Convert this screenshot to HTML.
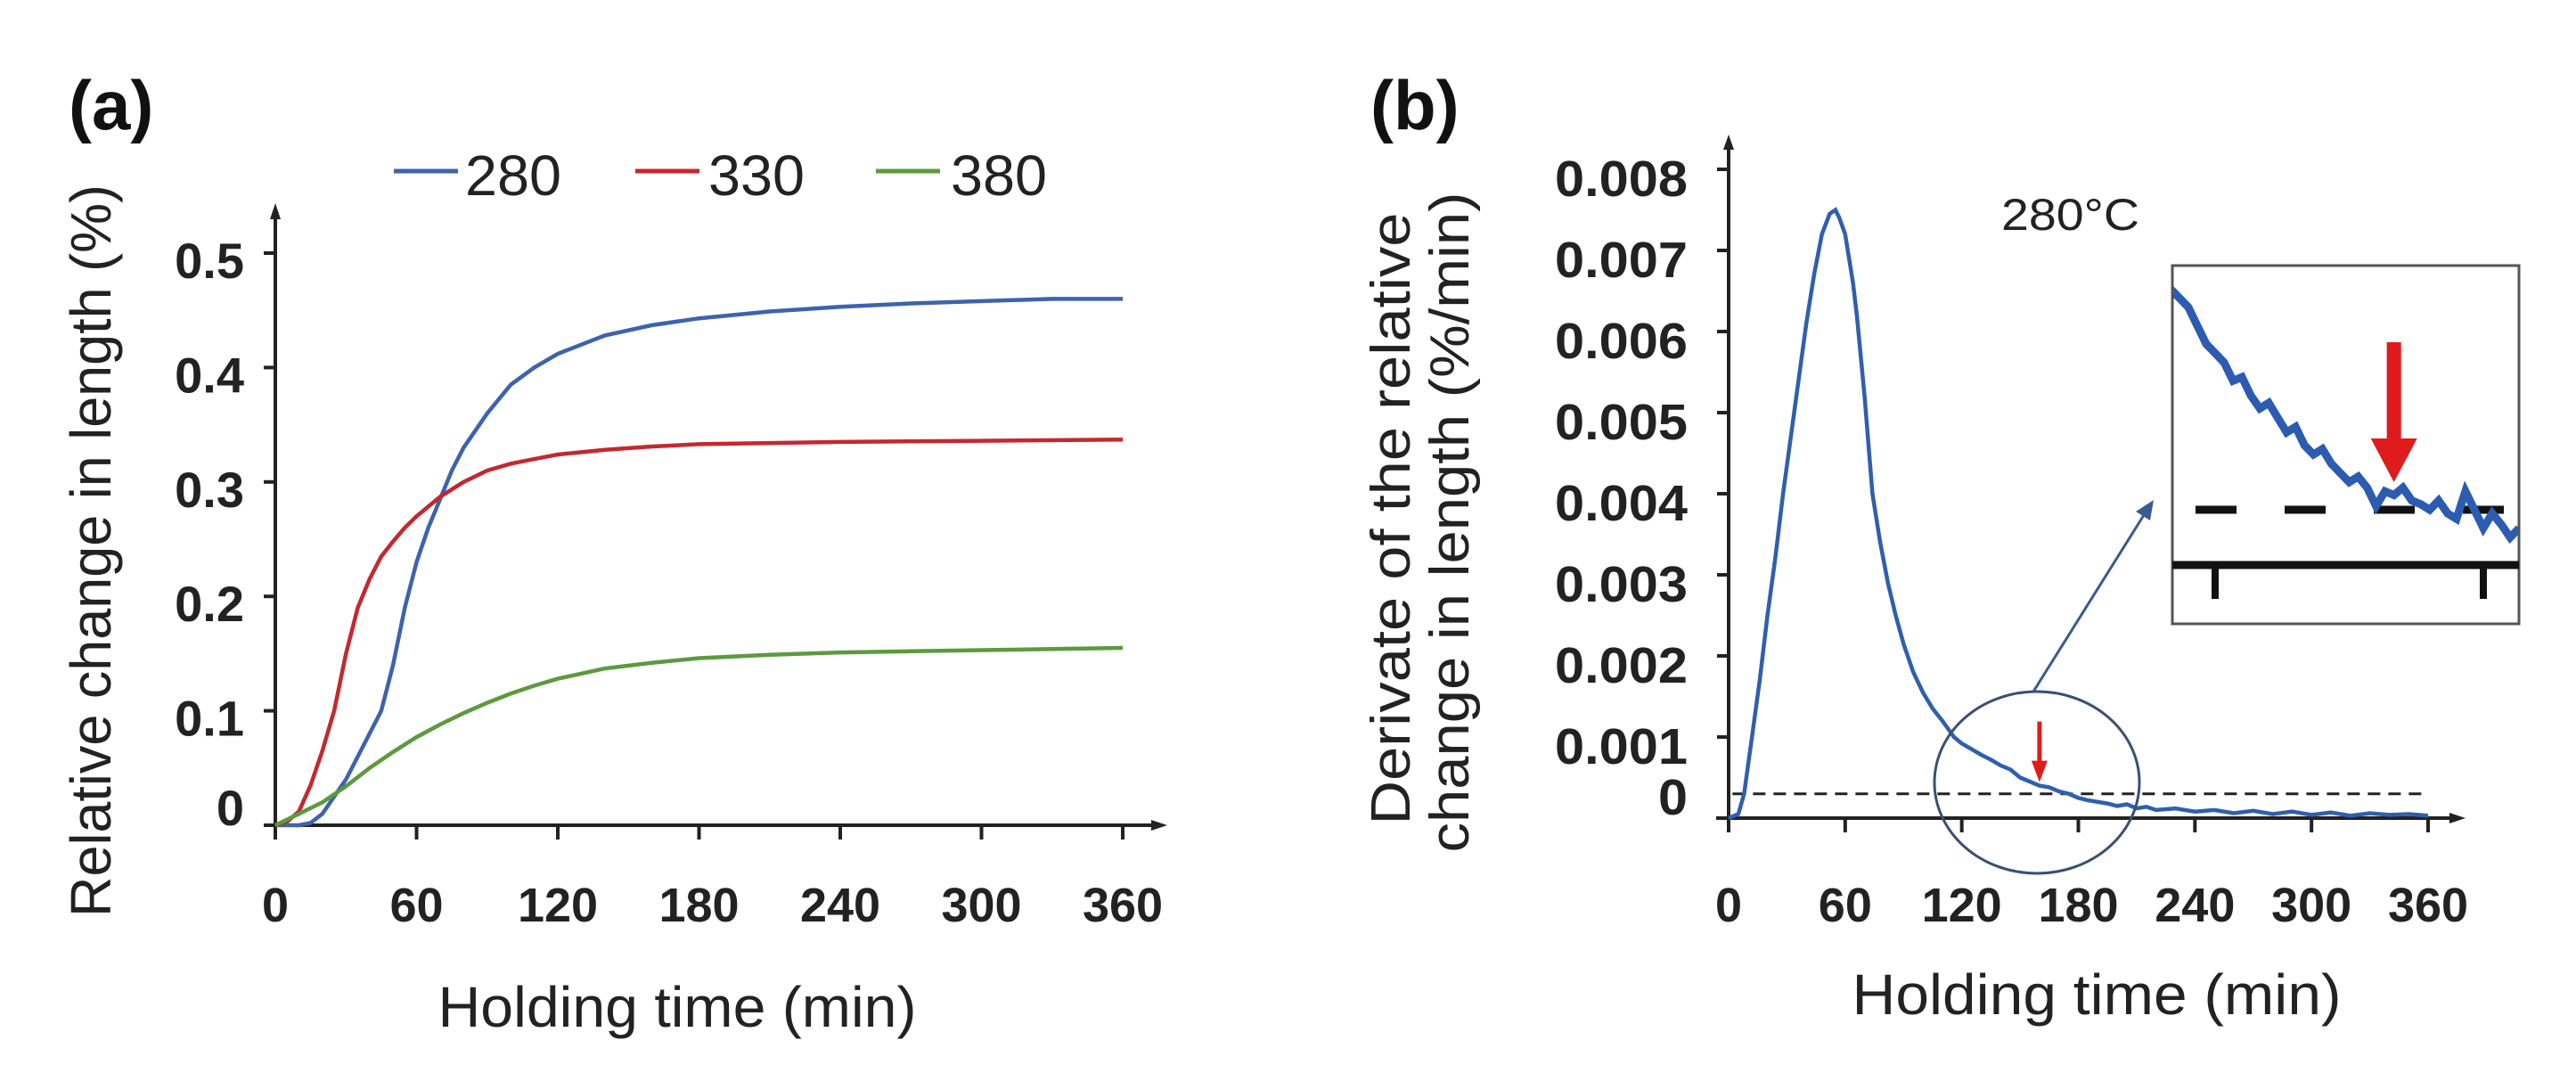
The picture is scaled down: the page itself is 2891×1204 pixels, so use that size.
<!DOCTYPE html>
<html><head><meta charset="utf-8"><style>
html,body{margin:0;padding:0;background:#fff;overflow:hidden;}
svg{display:block;font-family:"Liberation Sans",sans-serif;}
</style></head><body>
<svg id="fig" width="2891" height="1204" viewBox="0 0 2891 1204" xmlns="http://www.w3.org/2000/svg">
<g id="pa"></g>
<g id="pb"></g>
</svg>
<script>
const xTicks=[0,60,120,180,240,300,360];
const aYTicks=[0,0.1,0.2,0.3,0.4,0.5];
const aYLabels=["0","0.1","0.2","0.3","0.4","0.5"];
const t280=[0,10,15,20,25,30,35,40,45,50,55,60,65,70,75,80,90,100,110,120,140,160,180,210,240,270,300,330,360];
const v280=[0,0,0.002,0.01,0.025,0.04,0.06,0.08,0.1,0.14,0.19,0.23,0.26,0.285,0.31,0.33,0.36,0.385,0.4,0.412,0.428,0.437,0.443,0.449,0.453,0.456,0.458,0.46,0.46];
const t330=[0,5,10,15,20,25,30,35,40,45,50,55,60,70,80,90,100,110,120,140,160,180,210,240,300,360];
const v330=[0,0.003,0.012,0.035,0.065,0.1,0.15,0.19,0.215,0.235,0.248,0.26,0.27,0.287,0.3,0.31,0.316,0.32,0.324,0.328,0.331,0.333,0.334,0.335,0.336,0.337];
const t380=[0,10,20,30,40,50,60,70,80,90,100,110,120,140,160,180,210,240,270,300,330,360];
const v380=[0,0.01,0.02,0.034,0.05,0.064,0.077,0.088,0.098,0.107,0.115,0.122,0.128,0.137,0.142,0.146,0.149,0.151,0.152,0.153,0.154,0.155];
const bYTicks=[0,0.001,0.002,0.003,0.004,0.005,0.006,0.007,0.008];
const bYLabels=["0","0.001","0.002","0.003","0.004","0.005","0.006","0.007","0.008"];
const tB=[0,5,8,12,16,20,24,28,32,36,40,44,48,52,55,57,60,64,66,70,74,78,82,86,90,95,100,105,110,116,120,125,130,135,140,145,150,155,160,165,170,175,180,185,190,195,200,205,210,215,220,230,240,250,260,270,280,290,300,310,320,330,340,350,360];
const vB=[0,0.00005,0.0003,0.001,0.0017,0.0025,0.0032,0.004,0.0047,0.0054,0.0061,0.0067,0.0072,0.00745,0.0075,0.0074,0.0072,0.0066,0.0062,0.0052,0.004,0.0034,0.0029,0.0025,0.00215,0.0018,0.00155,0.00135,0.0012,0.001,0.00092,0.00085,0.00078,0.00072,0.00065,0.0006,0.0005,0.00045,0.0004,0.00038,0.00033,0.0003,0.00025,0.00022,0.0002,0.00018,0.00015,0.00017,0.00012,0.00014,0.0001,0.00012,0.00008,0.0001,0.00006,0.00009,0.00005,0.00008,0.00004,0.00007,0.00003,0.00006,0.00004,0.00005,0.00003];
const tI=[110,112,114,116,118,120,122,124,126,128,130,132,134,136,138,140,142,144,146,148,150,152,154,156,158,160,162,164,166,168,170,172,174,176,178,180,182,184,186,188];
const vI=[0.0015,0.00145,0.0014,0.0013,0.0012,0.00115,0.0011,0.001,0.00102,0.00092,0.00085,0.00088,0.0008,0.00072,0.00075,0.00065,0.0006,0.00063,0.00055,0.0005,0.00045,0.00048,0.00042,0.00032,0.0004,0.00038,0.00042,0.00035,0.00033,0.0003,0.00035,0.00028,0.00025,0.0004,0.0003,0.0002,0.00028,0.00022,0.00015,0.0002];
const threshold=0.0003;
const arrowT=160;

const NS="http://www.w3.org/2000/svg";
function mk(p,tag,at,txt){const e=document.createElementNS(NS,tag);for(const k in at)e.setAttribute(k,at[k]);if(txt!==undefined)e.textContent=txt;p.appendChild(e);return e;}
function pathD(ts,vs,X,Y){return ts.map((t,i)=>(i?"L":"M")+X(t).toFixed(1)+","+Y(vs[i]).toFixed(1)).join("");}
let e;

// Panel A
const pa=document.getElementById('pa');
const aX=t=>309+t*(1260-309)/360, aY=v=>926-v*(926-284)/0.5;
e=mk(pa,'text',{x:77,y:145,'font-size':78,'font-weight':'bold',fill:'#111'},'(a)');

e=mk(pa,'line',{x1:309,y1:926,x2:309,y2:240,stroke:'#222','stroke-width':4});

mk(pa,'path',{d:'M309,228 L303,246 L315,246 Z',fill:'#222'});
e=mk(pa,'line',{x1:296,y1:926,x2:1298,y2:926,stroke:'#222','stroke-width':4});

mk(pa,'path',{d:'M1310,926 L1292,920 L1292,932 Z',fill:'#222'});
aYTicks.forEach((v,i)=>{mk(pa,'line',{x1:296,y1:aY(v),x2:309,y2:aY(v),stroke:'#222','stroke-width':4});
 e=mk(pa,'text',{x:274,y:aY(v)+(i==0?0:28),'font-size':56,'font-weight':'bold','text-anchor':'end',fill:'#222'},aYLabels[i]);
 });
xTicks.forEach(t=>{mk(pa,'line',{x1:aX(t),y1:926,x2:aX(t),y2:942,stroke:'#222','stroke-width':4});
 e=mk(pa,'text',{x:aX(t),y:1034,'font-size':54,'font-weight':'bold','text-anchor':'middle',fill:'#222'},String(t));
 });
e=mk(pa,'text',{x:760,y:1152,'font-size':64,'text-anchor':'middle',fill:'#222',textLength:537,lengthAdjust:'spacingAndGlyphs'},'Holding time (min)');

e=mk(pa,'text',{x:0,y:0,'font-size':64,'text-anchor':'middle',fill:'#222',transform:'translate(124,618) rotate(-90)',textLength:822,lengthAdjust:'spacingAndGlyphs'},'Relative change in length (%)');

const series=[[t280,v280,'#3d63ad','280',442,522],[t330,v330,'#c4282e','330',713,795],[t380,v380,'#5c9a3e','380',983,1067]];
series.forEach(s=>{e=mk(pa,'path',{d:pathD(s[0],s[1],aX,aY),fill:'none',stroke:s[2],'stroke-width':4.5});
 
 e=mk(pa,'line',{x1:s[4],y1:192,x2:s[4]+72,y2:192,stroke:s[2],'stroke-width':5});
 
 e=mk(pa,'text',{x:s[5],y:219,'font-size':64,fill:'#222',textLength:108,lengthAdjust:'spacingAndGlyphs'},s[3]);
 });

// Panel B
const pb=document.getElementById('pb');
const bX=t=>1940+t*(2725-1940)/360, bY=v=>918-v*(918-190)/0.008;
e=mk(pb,'text',{x:1538,y:145,'font-size':78,'font-weight':'bold',fill:'#111'},'(b)');

e=mk(pb,'line',{x1:1940,y1:926,x2:1940,y2:162,stroke:'#222','stroke-width':4});

mk(pb,'path',{d:'M1940,151 L1934,168 L1946,168 Z',fill:'#222'});
e=mk(pb,'line',{x1:1926,y1:918,x2:2756,y2:918,stroke:'#222','stroke-width':4});

mk(pb,'path',{d:'M2767,918 L2749,912 L2749,924 Z',fill:'#222'});
bYTicks.forEach((v,i)=>{if(i>0)mk(pb,'line',{x1:1927,y1:bY(v),x2:1940,y2:bY(v),stroke:'#222','stroke-width':4});
 e=mk(pb,'text',{x:1894,y:bY(v)+(i==0?-4:30),'font-size':57,'font-weight':'bold','text-anchor':'end',fill:'#222',textLength:i==0?33:149,lengthAdjust:'spacingAndGlyphs'},bYLabels[i]);
 });
xTicks.forEach(t=>{mk(pb,'line',{x1:bX(t),y1:918,x2:bX(t),y2:934,stroke:'#222','stroke-width':4});
 e=mk(pb,'text',{x:bX(t),y:1034,'font-size':54,'font-weight':'bold','text-anchor':'middle',fill:'#222'},String(t));
 });
e=mk(pb,'text',{x:2353,y:1138,'font-size':64,'text-anchor':'middle',fill:'#222',textLength:549,lengthAdjust:'spacingAndGlyphs'},'Holding time (min)');

e=mk(pb,'text',{x:0,y:0,'font-size':62,'text-anchor':'middle',fill:'#222',transform:'translate(1582,582) rotate(-90)',textLength:687,lengthAdjust:'spacingAndGlyphs'},'Derivate of the relative');

e=mk(pb,'text',{x:0,y:0,'font-size':62,'text-anchor':'middle',fill:'#222',transform:'translate(1648,586) rotate(-90)',textLength:741,lengthAdjust:'spacingAndGlyphs'},'change in length (%/min)');

e=mk(pb,'text',{x:2246,y:258,'font-size':50,fill:'#222',textLength:155,lengthAdjust:'spacingAndGlyphs'},'280°C');

e=mk(pb,'line',{x1:bX(2),y1:bY(threshold),x2:bX(360),y2:bY(threshold),stroke:'#222','stroke-width':3,'stroke-dasharray':'14,9'});

e=mk(pb,'path',{d:pathD(tB,vB,bX,bY),fill:'none',stroke:'#2f5fae','stroke-width':4.5});

const ax=bX(arrowT), ay=bY(vB[tB.indexOf(arrowT)]);
e=mk(pb,'path',{d:`M${ax-2.5},${ay-72} L${ax+2.5},${ay-72} L${ax+2.5},${ay-28} L${ax+9},${ay-28} L${ax},${ay-4} L${ax-9},${ay-28} L${ax-2.5},${ay-28} Z`,fill:'#e01b1b'});

e=mk(pb,'ellipse',{cx:2286,cy:878,rx:115,ry:102,fill:'none',stroke:'#3a5070','stroke-width':3});

e=mk(pb,'line',{x1:2282,y1:776,x2:2411,y2:570,stroke:'#3a5a90','stroke-width':3});

mk(pb,'path',{d:'M2417,561 L2397,574 L2413,584 Z',fill:'#3a5a90'});
// inset
const iX=t=>2486+(t-120)*(2787-2486)/60, iY=v=>634-v*(634-572)/threshold;
e=mk(pb,'rect',{x:2438,y:298,width:389,height:402,fill:'#fff',stroke:'#555','stroke-width':3});

mk(pb,'clipPath',{id:'ic'});mk(document.getElementById('ic'),'rect',{x:2439,y:299,width:387,height:400});
e=mk(pb,'line',{x1:2464,y1:iY(threshold),x2:2827,y2:iY(threshold),stroke:'#111','stroke-width':9,'stroke-dasharray':'46,54'});

e=mk(pb,'path',{d:pathD(tI,vI,iX,iY),fill:'none',stroke:'#2c5cb0','stroke-width':9,'clip-path':'url(#ic)'});

e=mk(pb,'line',{x1:2438,y1:634,x2:2827,y2:634,stroke:'#111','stroke-width':9});

[120,180].forEach(t=>mk(pb,'line',{x1:iX(t),y1:634,x2:iX(t),y2:672,stroke:'#111','stroke-width':8}));
const iax=iX(arrowT);
e=mk(pb,'path',{d:`M${iax-8},384 L${iax+8},384 L${iax+8},492 L${iax+26},492 L${iax},541 L${iax-26},492 L${iax-8},492 Z`,fill:'#e01b1b'});

</script>
</body></html>
